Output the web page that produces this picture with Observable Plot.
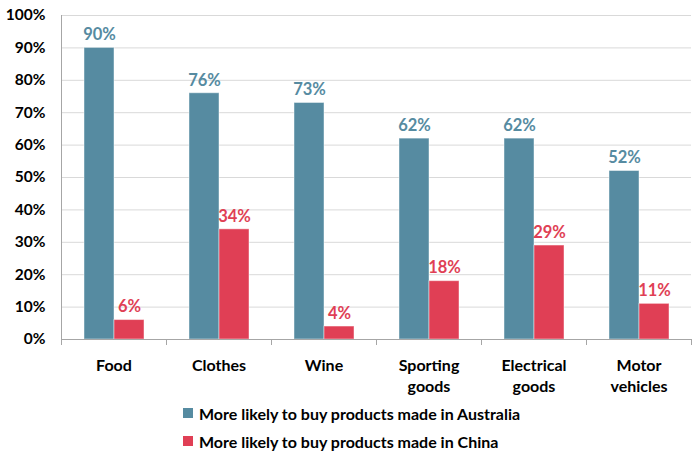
<!DOCTYPE html>
<html>
<head>
<meta charset="utf-8">
<script src="https://cdn.jsdelivr.net/npm/d3@7"></script>
<script src="https://cdn.jsdelivr.net/npm/@observablehq/plot@0.6"></script>
<style>
  body { margin: 0; background: #fff; font-family: Lato, "Open Sans", sans-serif; position: relative; width: 700px; height: 456px; overflow: hidden; }
  #legend { position: absolute; left: 183px; top: 399px; font-size: 16px; font-weight: bold; color: #000; }
  #legend .item { display: flex; align-items: center; height: 28px; }
  #legend .sw { width: 10px; height: 10px; margin-right: 6px; }
</style>
</head>
<body>
<div id="chart"></div>
<div id="legend"></div>
<script>
const categories = ["Food", "Clothes", "Wine", "Sporting goods", "Electrical goods", "Motor vehicles"];
const categoryLabels = ["Food", "Clothes", "Wine", "Sporting\ngoods", "Electrical\ngoods", "Motor\nvehicles"];
const series = ["More likely to buy products made in Australia", "More likely to buy products made in China"];
const australia = [90, 76, 73, 62, 62, 52];
const china = [6, 34, 4, 18, 29, 11];
const colors = ["#568ba1", "#e03f55"];
const yTicks = [0, 10, 20, 30, 40, 50, 60, 70, 80, 90, 100];

const data = [];
categories.forEach((c, i) => {
  data.push({category: c, series: series[0], value: australia[i]});
  data.push({category: c, series: series[1], value: china[i]});
});

const chart = Plot.plot({
  width: 700,
  height: 395,
  marginTop: 15,
  marginLeft: 61,
  marginRight: 9,
  marginBottom: 56,
  style: {fontFamily: "Lato, 'Open Sans', sans-serif", fontSize: "15px", fontWeight: "bold", color: "#000", background: "#fff"},
  fx: {domain: categories, padding: 0, label: null, axis: null},
  x: {domain: series, paddingInner: 0, paddingOuter: 0.75, axis: null},
  y: {domain: [0, 100], label: null, axis: null},
  color: {domain: series, range: colors},
  marks: [
    Plot.ruleY(yTicks.filter(d => d > 0), {stroke: "#d9d9d9", strokeWidth: 1}),
    Plot.barY(data, {fx: "category", x: "series", y: "value", fill: "series", stroke: "#ffffff", strokeOpacity: 0.45, strokeWidth: 1}),
    Plot.text(data, {fx: "category", x: "series", y: "value", text: d => d.value + "%", dy: -13, fill: "series", fontSize: 16.5, fontWeight: "bold"}),
    Plot.ruleY([0], {stroke: "#a6a6a6", strokeWidth: 1}),
    Plot.axisY({ticks: yTicks, tickFormat: d => d + "%", tickSize: 0, tickPadding: 16, fontSize: 15.5, fontWeight: "bold", fill: "#000", label: null}),
    Plot.axisFx({domain: categories, anchor: "bottom", tickSize: 0, tickPadding: 16, fontSize: 16, fontWeight: "bold", fill: "#000", lineHeight: 1.35, label: null,
      tickFormat: d => categoryLabels[categories.indexOf(d)]})
  ]
});

document.getElementById("chart").appendChild(chart);

// Axis line and category boundary ticks using the chart's own scales
const fx = chart.scale("fx");
const y = chart.scale("y");
const svg = d3.select(chart);
const y0 = y.apply(0), y100 = y.apply(100);
const edges = categories.map(c => fx.apply(c));
edges.push(fx.apply(categories[categories.length - 1]) + fx.bandwidth);
const g = svg.append("g").attr("stroke", "#a6a6a6").attr("stroke-width", 1);
g.append("line").attr("x1", edges[0] + 0.5).attr("x2", edges[0] + 0.5).attr("y1", y100).attr("y2", y0);
edges.forEach(e => {
  g.append("line").attr("x1", e + 0.5).attr("x2", e + 0.5).attr("y1", y0).attr("y2", y0 + 6);
});

const legend = d3.select("#legend");
series.forEach((s, i) => {
  const it = legend.append("div").attr("class", "item");
  it.append("div").attr("class", "sw").style("background", colors[i]);
  it.append("span").text(s);
});
</script>
</body>
</html>
